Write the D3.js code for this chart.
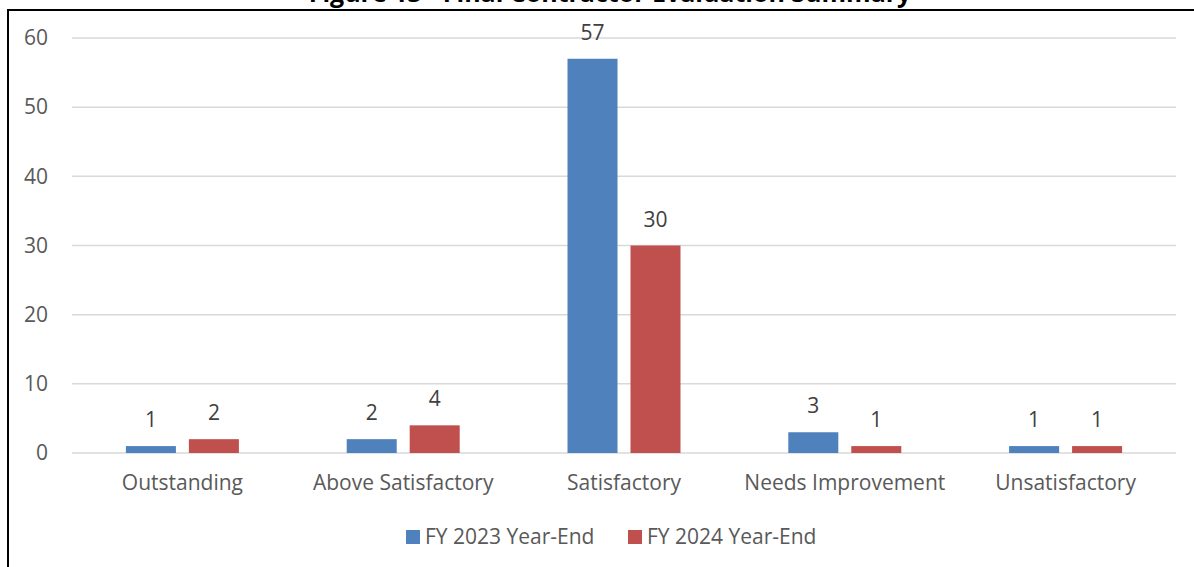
<!DOCTYPE html>
<html>
<head>
<meta charset="utf-8">
<script src="https://cdn.jsdelivr.net/npm/d3@7"></script>
<style>
  body { margin: 0; background: #fff; }
  svg { display: block; font-family: "Open Sans", sans-serif; }
</style>
</head>
<body>
<div class="chart"></div>
<script>
// data
const categories = ['Outstanding', 'Above Satisfactory', 'Satisfactory', 'Needs Improvement', 'Unsatisfactory']
const seriesNames = ['FY 2023 Year-End', 'FY 2024 Year-End']
const fy2023 = [1, 2, 57, 3, 1]
const fy2024 = [2, 4, 30, 1, 1]
const yTicks = [0, 10, 20, 30, 40, 50, 60]
const colors = ['#4f81bd', '#c0504d']

const W = 1194, H = 567
const margin = {top: 38, right: 18, bottom: 114, left: 72}
const width = W - margin.left - margin.right
const height = H - margin.top - margin.bottom
const fs = '21px'

const svg = d3.select('.chart')
  .append('svg')
    .attr('width', W)
    .attr('height', H)

// frame + title (clipped at the top, as in the source page)
svg.append('path')
  .attr('d', `M8,${H} V10 H${W}`)
  .attr('fill', 'none')
  .attr('stroke', '#000')
  .attr('stroke-width', 2)

svg.append('text')
  .attr('x', 610)
  .attr('y', 2)
  .attr('text-anchor', 'middle')
  .style('font-weight', 'bold')
  .style('font-size', '25px')
  .style('fill', '#000')
  .text('Figure 13 - Final Contractor Evaluation Summary')

const g = svg.append('g')
  .attr('transform', `translate(${margin.left}, ${margin.top})`)

const y = d3.scaleLinear().domain([0, 60]).range([height, 0])

const x0 = d3.scaleBand().domain(categories).range([0, width])
const x1 = d3.scaleBand().domain(seriesNames)
  .range([x0.bandwidth() / 2 - 56.5, x0.bandwidth() / 2 + 56.5])
  .paddingInner(0.206)

// grid
g.selectAll('.grid')
  .data(yTicks)
  .enter()
  .append('line')
    .attr('x1', 0)
    .attr('x2', width)
    .attr('y1', d => y(d))
    .attr('y2', d => y(d))
    .attr('stroke', '#d9d9d9')
    .attr('stroke-width', 1.5)

// y axis labels
const yAxis = d3.axisLeft(y).tickValues(yTicks).tickSize(0).tickPadding(24)
g.append('g')
  .call(yAxis)
  .call(a => a.select('.domain').remove())
  .selectAll('text')
    .style('font-size', fs)
    .style('font-family', '"Open Sans", sans-serif')
    .style('fill', '#595959')

// x axis labels
const xAxis = d3.axisBottom(x0).tickSize(0).tickPadding(22)
g.append('g')
  .attr('transform', `translate(0, ${height})`)
  .call(xAxis)
  .call(a => a.select('.domain').remove())
  .selectAll('text')
    .style('font-size', fs)
    .style('font-family', '"Open Sans", sans-serif')
    .style('fill', '#595959')

const rows = categories.map((c, i) => ({
  cat: c,
  vals: [fy2023[i], fy2024[i]].map((v, j) => ({name: seriesNames[j], v: v, color: colors[j]}))
}))

const groups = g.selectAll('.cat')
  .data(rows)
  .enter()
  .append('g')
    .attr('class', 'cat')
    .attr('transform', d => `translate(${x0(d.cat)}, 0)`)

groups.selectAll('rect')
  .data(d => d.vals)
  .enter()
  .append('rect')
    .attr('x', d => x1(d.name))
    .attr('width', x1.bandwidth())
    .attr('y', d => y(d.v))
    .attr('height', d => height - y(d.v))
    .attr('fill', d => d.color)

groups.selectAll('.val')
  .data(d => d.vals)
  .enter()
  .append('text')
    .attr('class', 'val')
    .attr('x', d => x1(d.name) + x1.bandwidth() / 2)
    .attr('y', d => y(d.v) - 19)
    .attr('text-anchor', 'middle')
    .style('font-size', fs)
    .style('fill', '#404040')
    .text(d => d.v)

// legend
const legend = svg.append('g')
  .attr('transform', 'translate(406, 530)')
const lx = [0, 222]
seriesNames.forEach((s, i) => {
  const item = legend.append('g').attr('transform', `translate(${lx[i]}, 0)`)
  item.append('rect')
    .attr('width', 14).attr('height', 14)
    .attr('fill', colors[i])
  item.append('text')
    .attr('x', 19)
    .attr('y', 14)
    .style('font-size', fs)
    .style('fill', '#595959')
    .text(s)
})
</script>
</body>
</html>
